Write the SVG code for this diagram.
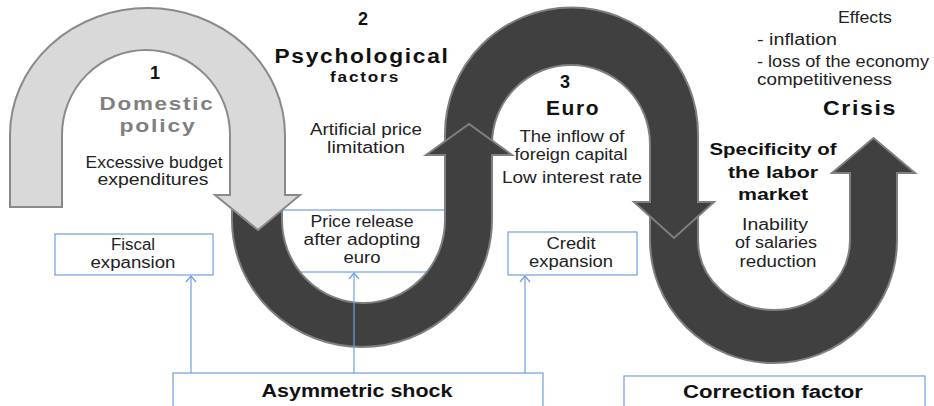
<svg xmlns="http://www.w3.org/2000/svg" width="934" height="406" viewBox="0 0 934 406">
<defs>
<style>
.dark{fill:#404040;stroke:#7f7f7f;stroke-width:2;stroke-linejoin:miter}
.light{fill:#d9d9d9;stroke:#8a8a8a;stroke-width:2}
.box{fill:#ffffff;stroke:#6f9ee0;stroke-width:1.2}
.conn{stroke:#6f9ee0;stroke-width:1.2;fill:none;marker-end:url(#chev)}
text{font-family:"Liberation Sans",Arial,sans-serif;fill:#222;text-anchor:middle}
.r{font-size:16px}
.b{font-weight:bold;fill:#111}
.g{fill:#808080}
.l{text-anchor:start}
.sp{letter-spacing:1.5px}
</style>
<marker id="chev" viewBox="0 0 12 12" refX="11" refY="6" markerWidth="12" markerHeight="12" markerUnits="userSpaceOnUse" orient="auto">
<path d="M5,1 L11,6 L5,11" fill="none" stroke="#6f9ee0" stroke-width="1.2"/>
</marker>
</defs>

<g id="price-release-box">
<rect class="box" x="270" y="210" width="185" height="62"/>
</g>

<g id="arrows">
<path id="arrow-labor" class="dark" d="M650,205 L650,240 A123.5,123 0 0 0 897,240 L897,173 L915,173 L873.5,138 L832,173 L850,173 L850,240 A76,70 0 0 1 698,240 L698,205 Z"/>
<path id="arrow-euro" class="dark" d="M445,165 L445,134 A126.5,126.5 0 0 1 698,134 L698,202 L714,202 L674,238 L634,202 L650,202 L650,144 A79,79 0 0 0 492,144 L492,165 Z"/>
<path id="arrow-psych" class="dark" d="M232,210 L232,220 A130,127 0 0 0 492,220 L492,155 L512,155 L469,124 L426,155 L445,155 L445,220 A81.5,83 0 0 1 282,220 L282,210 Z"/>
<path id="arrow-domestic" class="light" d="M10,207 L10,135 A137.5,127 0 0 1 285,135 L285,195 L300,195 L258,230 L215,195 L230,195 L230,135 A84,85 0 0 0 62,135 L62,207 Z"/>
</g>

<g id="connectors">
<line class="conn" x1="191" y1="373" x2="191" y2="276"/>
<line class="conn" x1="354" y1="373" x2="354" y2="273"/>
<line class="conn" x1="525" y1="373" x2="525" y2="276"/>
</g>

<g id="node-domestic">
<text class="b" x="155" y="79" font-size="18">1</text>
<text class="b g sp" x="157" y="110" font-size="19" textLength="115" lengthAdjust="spacingAndGlyphs">Domestic</text>
<text class="b g sp" x="158" y="132" font-size="19" textLength="77" lengthAdjust="spacingAndGlyphs">policy</text>
<text class="r" x="154" y="168" textLength="137" lengthAdjust="spacingAndGlyphs">Excessive budget</text>
<text class="r" x="153" y="185" textLength="111" lengthAdjust="spacingAndGlyphs">expenditures</text>
</g>

<g id="node-psych">
<text class="b" x="363" y="25" font-size="18">2</text>
<text class="b sp" x="362" y="63" font-size="20" textLength="175" lengthAdjust="spacingAndGlyphs">Psychological</text>
<text class="b sp" x="365" y="82" font-size="14" textLength="70" lengthAdjust="spacingAndGlyphs">factors</text>
<text class="r" x="366" y="135" textLength="112" lengthAdjust="spacingAndGlyphs">Artificial price</text>
<text class="r" x="366" y="153" textLength="78" lengthAdjust="spacingAndGlyphs">limitation</text>
</g>

<g id="node-price-release">
<text class="r" x="362" y="227" textLength="103" lengthAdjust="spacingAndGlyphs">Price release</text>
<text class="r" x="362" y="245" textLength="117" lengthAdjust="spacingAndGlyphs">after adopting</text>
<text class="r" x="362" y="263" textLength="37" lengthAdjust="spacingAndGlyphs">euro</text>
</g>

<g id="node-fiscal">
<rect class="box" x="55" y="234" width="158" height="41"/>
<text class="r" x="133" y="250" textLength="44" lengthAdjust="spacingAndGlyphs">Fiscal</text>
<text class="r" x="133" y="268" textLength="85" lengthAdjust="spacingAndGlyphs">expansion</text>
</g>

<g id="node-credit">
<rect class="box" x="508" y="232" width="129" height="43"/>
<text class="r" x="571" y="249" textLength="49" lengthAdjust="spacingAndGlyphs">Credit</text>
<text class="r" x="571" y="267" textLength="84" lengthAdjust="spacingAndGlyphs">expansion</text>
</g>

<g id="node-euro">
<text class="b" x="565" y="88" font-size="18">3</text>
<text class="b sp" x="573" y="115" font-size="20" textLength="54" lengthAdjust="spacingAndGlyphs">Euro</text>
<text class="r" x="572" y="142" textLength="105" lengthAdjust="spacingAndGlyphs">The inflow of</text>
<text class="r" x="571" y="160" textLength="113" lengthAdjust="spacingAndGlyphs">foreign capital</text>
<text class="r" x="572" y="183" textLength="140" lengthAdjust="spacingAndGlyphs">Low interest rate</text>
</g>

<g id="node-effects">
<text class="r" x="865" y="23" textLength="54" lengthAdjust="spacingAndGlyphs">Effects</text>
<text class="r l" x="757" y="45" textLength="80" lengthAdjust="spacingAndGlyphs">- inflation</text>
<text class="r l" x="757" y="67" textLength="172" lengthAdjust="spacingAndGlyphs">- loss of the economy</text>
<text class="r l" x="757" y="85" textLength="135" lengthAdjust="spacingAndGlyphs">competitiveness</text>
<text class="b sp" x="860" y="115" font-size="21" textLength="74" lengthAdjust="spacingAndGlyphs">Crisis</text>
</g>

<g id="node-labor">
<text class="b" x="773" y="155" font-size="17" textLength="127" lengthAdjust="spacingAndGlyphs">Specificity of</text>
<text class="b" x="773" y="178" font-size="17" textLength="90" lengthAdjust="spacingAndGlyphs">the labor</text>
<text class="b" x="773" y="200" font-size="17" textLength="70" lengthAdjust="spacingAndGlyphs">market</text>
<text class="r" x="775" y="230" textLength="66" lengthAdjust="spacingAndGlyphs">Inability</text>
<text class="r" x="776" y="248" textLength="82" lengthAdjust="spacingAndGlyphs">of salaries</text>
<text class="r" x="778" y="267" textLength="77" lengthAdjust="spacingAndGlyphs">reduction</text>
</g>

<g id="node-asymmetric">
<rect class="box" x="173" y="373" width="370" height="45"/>
<text class="b" x="357" y="397" font-size="18" textLength="191" lengthAdjust="spacingAndGlyphs">Asymmetric shock</text>
</g>

<g id="node-correction">
<rect class="box" x="624" y="376" width="301" height="45"/>
<text class="b" x="773" y="398" font-size="18" textLength="180" lengthAdjust="spacingAndGlyphs">Correction factor</text>
</g>
</svg>
